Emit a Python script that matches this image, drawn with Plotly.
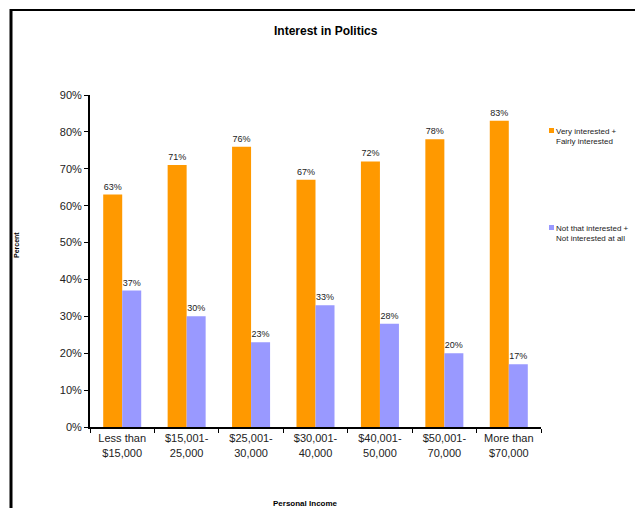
import plotly.graph_objects as go

categories = ["Less than<br>$15,000", "$15,001-<br>25,000", "$25,001-<br>30,000",
              "$30,001-<br>40,000", "$40,001-<br>50,000", "$50,001-<br>70,000",
              "More than<br>$70,000"]
interested = [63, 71, 76, 67, 72, 78, 83]
not_interested = [37, 30, 23, 33, 28, 20, 17]
series_names = ["Very interested +<br>Fairly interested", "Not that interested +<br>Not interested at all"]
colors = ["#FF9900", "#9999FF"]

W, H = 635, 508
L, R, T, B = 90, 94, 95, 81
pw, ph = W - L - R, H - T - B

def px(x):
    return (x - L) / pw

def py(y):
    return (H - B - y) / ph

fig = go.Figure()
for vals, name, c in zip([interested, not_interested], series_names, colors):
    fig.add_trace(go.Bar(
        x=categories, y=vals, name=name, marker_color=c, marker_line_width=0,
        text=[f"{v}%" for v in vals], textposition="outside",
        textfont=dict(size=9, color="#222"), cliponaxis=False, showlegend=False))

fig.update_layout(
    width=W, height=H, margin=dict(l=L, r=R, t=T, b=B),
    paper_bgcolor="white", plot_bgcolor="white",
    barmode="group", bargap=0.41, bargroupgap=0,
    font=dict(family="Liberation Sans, Arial", color="#222"),
    xaxis=dict(showline=True, linecolor="black", linewidth=2, ticks="outside",
               tickson="boundaries", ticklen=4, tickcolor="black",
               tickfont=dict(size=11), showgrid=False),
    yaxis=dict(range=[0, 90], dtick=10, ticksuffix="%", showline=True, linecolor="black",
               linewidth=2, ticks="outside", ticklen=4, tickcolor="black",
               tickfont=dict(size=11), showgrid=False, zeroline=False),
)

ann = [
    dict(text="<b>Interest in Politics</b>", x=px(326), y=py(31), font=dict(size=12, color="black")),
    dict(text="<b>Personal Income</b>", x=px(305), y=py(503), font=dict(size=8, color="black")),
    dict(text="<b>Percent</b>", x=px(17), y=py(245), textangle=-90, font=dict(size=7, color="black")),
]
for a in ann:
    fig.add_annotation(xref="paper", yref="paper", showarrow=False, xanchor="center",
                       yanchor="middle", **a)

for i, (name, c) in enumerate(zip(series_names, colors)):
    ytop = [125, 222][i]
    fig.add_shape(type="rect", xref="paper", yref="paper",
                  x0=px(549), x1=px(554), y0=py(ytop + 3), y1=py(ytop + 8),
                  fillcolor=c, line_width=0)
    fig.add_annotation(xref="paper", yref="paper", x=px(554), y=py(ytop), xanchor="left",
                       yanchor="top", align="left", showarrow=False, text=name,
                       font=dict(size=8, color="#222"))

# outer frame (top and left edges visible)
fig.add_shape(type="line", xref="paper", yref="paper", x0=px(10), x1=px(640), y0=py(10), y1=py(10),
              line=dict(color="black", width=2))
fig.add_shape(type="line", xref="paper", yref="paper", x0=px(11), x1=px(11), y0=py(9), y1=py(520),
              line=dict(color="black", width=3))

fig.write_html("out.html")
